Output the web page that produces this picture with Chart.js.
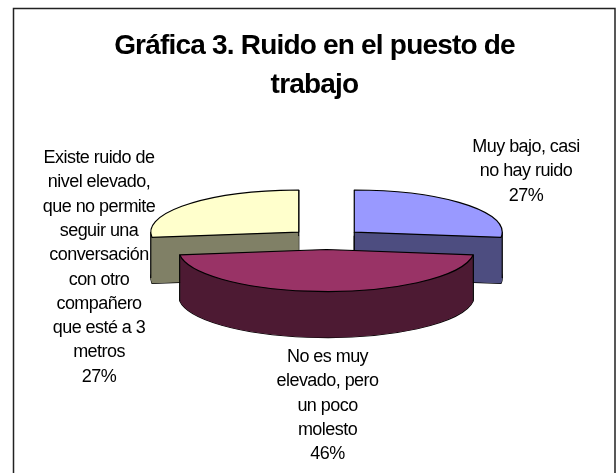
<!DOCTYPE html>
<html>
<head>
<meta charset="utf-8">
<title>Gráfica 3</title>
<style>
  html, body { margin: 0; padding: 0; background: #fff; }
  #wrap { width: 616px; height: 473px; }
</style>
<script src="https://cdn.jsdelivr.net/npm/chart.js@4"></script>
</head>
<body>
<div id="wrap"><canvas id="chart" width="616" height="473"></canvas></div>
<script>
const categories = [
  "Muy bajo, casi no hay ruido",
  "No es muy elevado, pero un poco molesto",
  "Existe ruido de nivel elevado, que no permite seguir una conversación con otro compañero que esté a 3 metros"
];
const values = [27, 46, 27];
const titleLines = ["Gráfica 3. Ruido en el puesto de", "trabajo"];
const topColors = ["#9999ff", "#993366", "#ffffcc"];
const sideColors = ["#4d4d80", "#4d1a33", "#808066"];
const labelLines = [
  ["Muy bajo, casi", "no hay ruido"],
  ["No es muy", "elevado, pero", "un poco", "molesto"],
  ["Existe ruido de", "nivel elevado,", "que no permite", "seguir una", "conversación", "con otro", "compañero", "que esté a 3", "metros"]
];

const TILT = 0.284;   // vertical squash of the pie
const DEPTH = 46;     // height of the extruded side
const EXPLODE = 37;

// where each label block is centred and the baseline of its first line
const labelAnchors = [
  { x: 526, y: 152 },
  { x: 327.5, y: 362 },
  { x: 99, y: 163 }
];
const LABEL_LINE = 24.3;

function sliceGeometry(arc) {
  const p = arc.getProps(["x", "y", "startAngle", "endAngle", "outerRadius"], true);
  const mid = (p.startAngle + p.endAngle) / 2;
  return {
    cx: p.x + Math.cos(mid) * EXPLODE,
    cy: p.y + Math.sin(mid) * EXPLODE * TILT,
    rx: p.outerRadius,
    ry: p.outerRadius * TILT,
    start: p.startAngle,
    end: p.endAngle
  };
}

function addSlice(ctx, g, dy) {
  ctx.moveTo(g.cx, g.cy + dy);
  ctx.ellipse(g.cx, g.cy + dy, g.rx, g.ry, 0, g.start, g.end);
  ctx.closePath();
}

// left and right limits of a slice, for the vertical side edges
function sideEdges(g) {
  const pts = [
    [g.cx, g.cy],
    [g.cx + g.rx * Math.cos(g.start), g.cy + g.ry * Math.sin(g.start)],
    [g.cx + g.rx * Math.cos(g.end), g.cy + g.ry * Math.sin(g.end)]
  ];
  for (let k = -2; k <= 4; k++) {
    const a = k * Math.PI;
    if (a > g.start && a < g.end) {
      pts.push([g.cx + g.rx * Math.cos(a), g.cy + g.ry * Math.sin(a)]);
    }
  }
  pts.sort((a, b) => a[0] - b[0]);
  return [pts[0], pts[pts.length - 1]];
}

/* FLATTENED PIE WITH SIDES */
const pie3d = {
  id: "pie3d",
  beforeDatasetsDraw(chart) {
    const ctx = chart.ctx;
    const arcs = chart.getDatasetMeta(0).data;
    ctx.save();
    ctx.strokeStyle = "#000";
    ctx.lineWidth = 1.2;
    ctx.lineJoin = "round";
    // back slices first, the front one goes over them
    [2, 0, 1].forEach(i => {
      const g = sliceGeometry(arcs[i]);
      ctx.beginPath();
      addSlice(ctx, g, DEPTH);
      ctx.stroke();

      // the side is one path so the fill edges don't build up into stripes
      ctx.beginPath();
      for (let d = DEPTH; d > 0; d--) addSlice(ctx, g, d);
      ctx.fillStyle = sideColors[i];
      ctx.fill();

      sideEdges(g).forEach(pt => {
        ctx.beginPath();
        ctx.moveTo(pt[0], pt[1]);
        ctx.lineTo(pt[0], pt[1] + DEPTH);
        ctx.stroke();
      });

      ctx.beginPath();
      addSlice(ctx, g, 0);
      ctx.fillStyle = topColors[i];
      ctx.fill();
      ctx.stroke();
    });
    ctx.restore();
    return false;
  }
};

/* FRAME, TITLE AND LABELS */
const frameAndLabels = {
  id: "frameAndLabels",
  beforeDraw(chart) {
    const ctx = chart.ctx;
    ctx.save();
    ctx.strokeStyle = "#222";
    ctx.lineWidth = 1.5;
    // only the top, left and right sides fall inside the page
    ctx.beginPath();
    ctx.moveTo(13.5, 480);
    ctx.lineTo(13.5, 8.5);
    ctx.lineTo(615, 8.5);
    ctx.lineTo(615, 480);
    ctx.stroke();
    ctx.restore();
  },
  afterDraw(chart) {
    const ctx = chart.ctx;
    const total = values.reduce((a, b) => a + b, 0);
    ctx.save();
    ctx.fillStyle = "#000";
    ctx.textAlign = "center";
    ctx.textBaseline = "alphabetic";

    ctx.font = 'bold 28px "Liberation Sans", Arial, sans-serif';
    ctx.letterSpacing = "-0.8px";
    titleLines.forEach((line, n) => ctx.fillText(line, 314.5, 54 + n * 38.5));

    ctx.font = '18px "Liberation Sans", Arial, sans-serif';
    ctx.letterSpacing = "-0.55px";
    labelLines.forEach((lines, i) => {
      const a = labelAnchors[i];
      const all = lines.concat(Math.round(values[i] / total * 100) + "%");
      all.forEach((line, n) => ctx.fillText(line, a.x, a.y + n * LABEL_LINE));
    });
    ctx.restore();
  }
};

new Chart(document.getElementById("chart"), {
  type: "pie",
  data: {
    labels: categories,
    datasets: [{ data: values, backgroundColor: topColors, borderWidth: 0 }]
  },
  options: {
    responsive: false,
    animation: false,
    radius: 148,
    layout: { padding: { left: 127, right: 90, top: 5, bottom: 0 } },
    plugins: {
      legend: { display: false },
      tooltip: { enabled: false },
      title: { display: false }
    }
  },
  plugins: [frameAndLabels, pie3d]
});
</script>
</body>
</html>
